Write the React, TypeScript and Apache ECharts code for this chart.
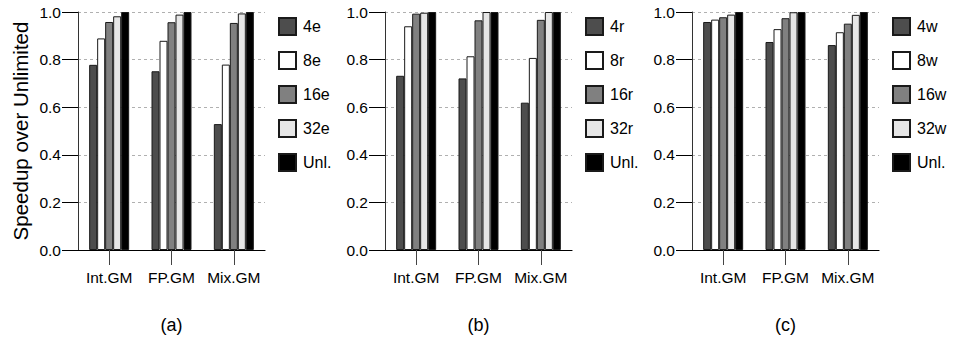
import React, { useEffect, useRef } from "react";
import * as echarts from "echarts";

const categories = ["Int.GM", "FP.GM", "Mix.GM"];
const panelLabels = ["(a)", "(b)", "(c)"];

const namesA = ["4e", "8e", "16e", "32e", "Unl."];
const namesB = ["4r", "8r", "16r", "32r", "Unl."];
const namesC = ["4w", "8w", "16w", "32w", "Unl."];

const valuesA = [
  [0.778, 0.751, 0.529],
  [0.889, 0.879, 0.779],
  [0.958, 0.957, 0.954],
  [0.982, 0.989, 0.994],
  [1.0, 1.0, 1.0],
];
const valuesB = [
  [0.732, 0.721, 0.619],
  [0.94, 0.814, 0.807],
  [0.993, 0.965, 0.967],
  [0.997, 1.0, 1.0],
  [1.0, 1.0, 1.0],
];
const valuesC = [
  [0.958, 0.874, 0.861],
  [0.968, 0.928, 0.915],
  [0.978, 0.974, 0.951],
  [0.989, 0.999, 0.988],
  [1.0, 1.0, 1.0],
];

const yTicks = { min: 0, max: 1, interval: 0.2 };
const barColors = ["#4d4d4d", "#ffffff", "#808080", "#e6e6e6", "#000000"];

const FONT = "'Liberation Sans', Arial, Helvetica, sans-serif";

export default function App() {
  const ref = useRef<HTMLDivElement>(null);
  useEffect(() => {
    if (!ref.current) return;
    const chart = echarts.init(ref.current, null, { renderer: "svg" });
    const panels = [
      { names: namesA, values: valuesA, left: 78 },
      { names: namesB, values: valuesB, left: 385 },
      { names: namesC, values: valuesC, left: 692 },
    ];
    const grid: any[] = [];
    const xAxis: any[] = [];
    const yAxis: any[] = [];
    const series: any[] = [];
    const legend: any[] = [];
    panels.forEach((p, i) => {
      grid.push({ left: p.left, top: 12, width: 187, height: 240, containLabel: false });
      xAxis.push({
        type: "category",
        gridIndex: i,
        data: categories,
        name: panelLabels[i],
        nameLocation: "middle",
        nameGap: 66,
        nameTextStyle: { fontSize: 18, color: "#000", fontFamily: FONT },
        axisLine: { show: true, lineStyle: { color: "#000", width: 1.2 } },
        axisTick: { show: true, alignWithLabel: true, interval: 0, length: 15, lineStyle: { color: "#444" } },
        axisLabel: { color: "#000", fontSize: 15.5, margin: 19, interval: 0, fontFamily: FONT },
        splitLine: { show: false },
      });
      yAxis.push({
        type: "value",
        gridIndex: i,
        min: yTicks.min,
        max: yTicks.max,
        interval: yTicks.interval,
        name: i === 0 ? "Speedup over Unlimited" : "",
        nameLocation: "middle",
        nameGap: 47,
        nameTextStyle: { fontSize: 20.5, color: "#000", fontFamily: FONT },
        axisLine: { show: true, lineStyle: { color: "#333", width: 1 } },
        axisTick: { show: true, length: 16, lineStyle: { color: "#000" } },
        axisLabel: {
          color: "#000",
          fontSize: 15.5,
          margin: 17,
          fontFamily: FONT,
          formatter: (v: number) => v.toFixed(1),
        },
        splitLine: { show: true, lineStyle: { color: "#b0b0b0", type: [3, 3], width: 1 } },
      });
      p.names.forEach((n, k) => {
        series.push({
          type: "bar",
          name: n,
          xAxisIndex: i,
          yAxisIndex: i,
          data: p.values[k],
          barWidth: 8,
          barGap: "0%",
          itemStyle: { color: barColors[k], borderColor: "#1a1a1a", borderWidth: 1 },
        });
      });
      legend.push({
        orient: "vertical",
        left: p.left + 200,
        top: 17,
        padding: 0,
        itemWidth: 17,
        itemHeight: 17,
        itemGap: 15,
        icon: "rect",
        data: p.names,
        selectedMode: false,
        textStyle: { fontSize: 16, color: "#000", fontFamily: FONT, padding: [0, 0, 0, 2] },
      });
    });
    chart.setOption({
      animation: false,
      backgroundColor: "#fff",
      textStyle: { fontFamily: FONT },
      grid,
      xAxis,
      yAxis,
      series,
      legend,
    });
    return () => chart.dispose();
  }, []);
  return (
    <div
      ref={ref}
      style={{ position: "absolute", left: 0, top: 0, width: 955, height: 339 }}
    />
  );
}
